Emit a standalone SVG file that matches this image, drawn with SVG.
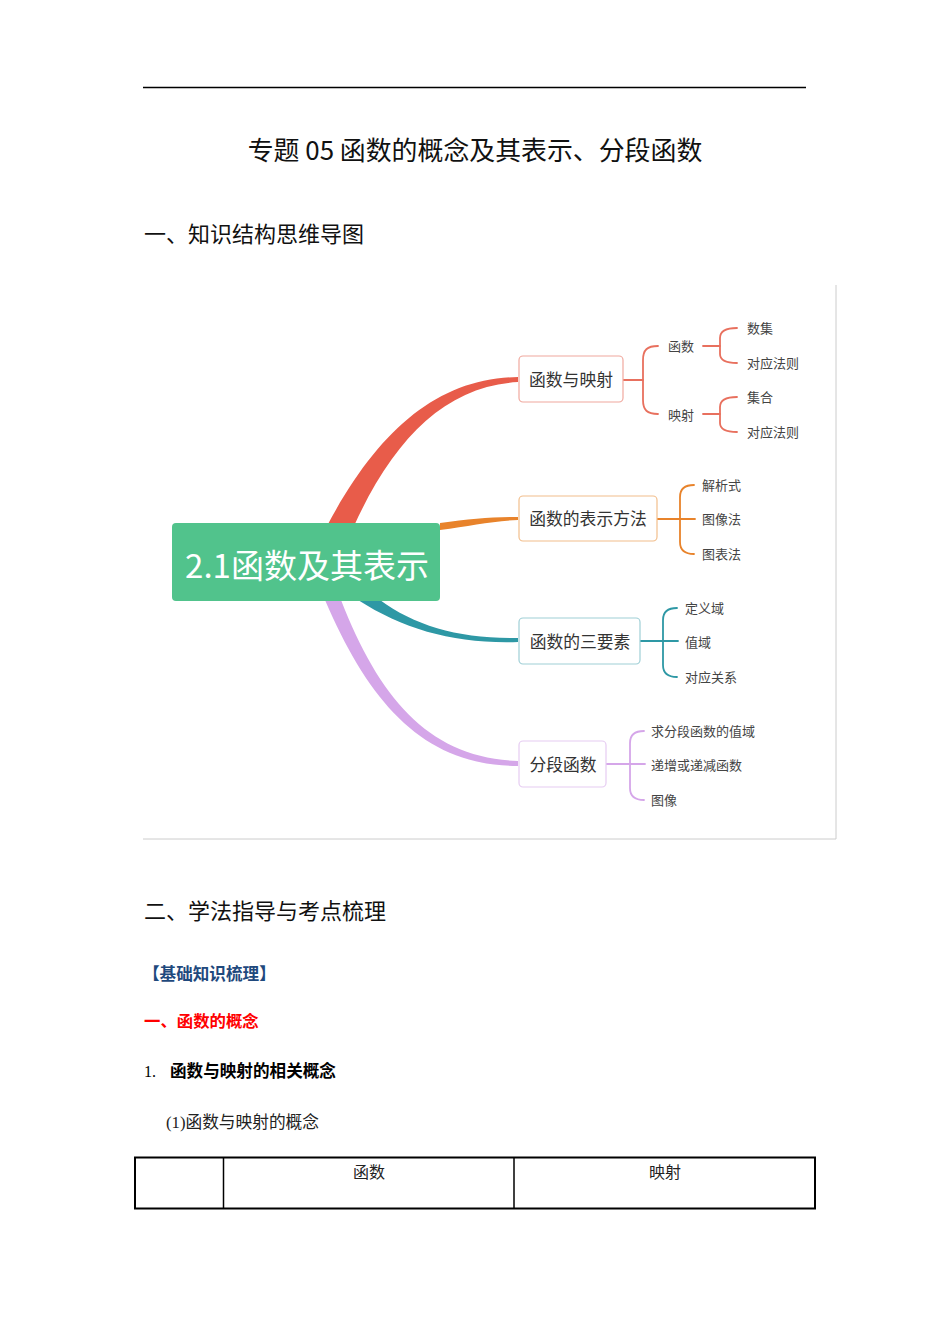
<svg xmlns="http://www.w3.org/2000/svg" width="950" height="1344" viewBox="0 0 950 1344">
<style>
.sans{font-family:"Noto Sans CJK SC","Noto Sans",sans-serif;}
.serif{font-family:"Liberation Serif","Noto Sans CJK SC",serif;}
.h1{font-size:25.9px;fill:#111;}
.h2{font-size:22px;fill:#111;}
.nodebox{fill:#fff;stroke-width:1.2;}
.nodetxt{font-size:16.8px;fill:#333;}
.leaf{font-size:13px;fill:#444;}
.br{fill:none;stroke-width:1.8;stroke-linecap:round;}
</style>
<rect width="950" height="1344" fill="#fff"/>
<line x1="143" y1="87.5" x2="806" y2="87.5" stroke="#000" stroke-width="1.5"/>
<text class="sans h1" x="475" y="160" text-anchor="middle">专题 05 函数的概念及其表示、分段函数</text>
<text class="sans h2" x="144" y="242">一、知识结构思维导图</text>

<g id="frame">
<line x1="836" y1="285" x2="836" y2="839" stroke="#ccc" stroke-width="1"/>
<line x1="143" y1="839" x2="836" y2="839" stroke="#ccc" stroke-width="1"/>
</g>

<g id="connectors">
<path d="M327 526 C378 430 438 378 518 377 L518 382 C446 386 394 438 354 526 Z" fill="#E85C4A"/>
<path d="M440 523 C470 519 492 517 518 517 L518 520 C492 521 470 526 440 530 Z" fill="#E8832B"/>
<path d="M358 600 C405 630 455 644 518 642 L518 638 C460 639 415 626 380 600 Z" fill="#2E98A5"/>
<path d="M325 600 C370 705 425 766 518 766 L518 761 C430 758 380 700 341 600 Z" fill="#D5A6E9"/>

<g stroke="#E8705E" class="br">
<path d="M623 380 H643"/>
<path d="M658 346 C647 346 643 350 643 360 V400 C643 410 647 414 658 414"/>
<path d="M703 346 H720"/>
<path d="M737 328 C725 328 720 332 720 338 V354 C720 360 725 363 737 363"/>
<path d="M703 414 H720"/>
<path d="M737 397 C725 397 720 401 720 407 V423 C720 429 725 432 737 432"/>
</g>
<g stroke="#E8832B" class="br">
<path d="M657 519 H695"/>
<path d="M694 485 C684 485 680 489 680 497 V542 C680 550 684 554 694 554"/>
</g>
<g stroke="#2E98A5" class="br">
<path d="M640 641 H678"/>
<path d="M677 608 C667 608 663 612 663 620 V665 C663 673 667 677 677 677"/>
</g>
<g stroke="#D5A6E9" class="br">
<path d="M606 764 H645"/>
<path d="M644 731 C634 731 630 735 630 743 V788 C630 796 634 800 644 800"/>
</g>
</g>

<g id="root">
<rect x="172" y="523" width="268" height="78" rx="4" fill="#51C38C"/>
<text class="sans" x="307" y="578" font-size="33" fill="#fff" text-anchor="middle">2.1函数及其表示</text>
</g>

<g id="n1">
<rect class="nodebox" x="519" y="356" width="104" height="46" rx="4" stroke="#F0A89E"/>
<text class="sans nodetxt" x="571" y="386" text-anchor="middle">函数与映射</text>
</g>
<g id="n1a"><text class="sans leaf" x="668" y="351">函数</text></g>
<g id="n1b"><text class="sans leaf" x="668" y="420">映射</text></g>
<g id="n1a1"><text class="sans leaf" x="747" y="333">数集</text></g>
<g id="n1a2"><text class="sans leaf" x="747" y="368">对应法则</text></g>
<g id="n1b1"><text class="sans leaf" x="747" y="402">集合</text></g>
<g id="n1b2"><text class="sans leaf" x="747" y="437">对应法则</text></g>

<g id="n2">
<rect class="nodebox" x="519" y="496" width="138" height="45" rx="4" stroke="#F2BE8C"/>
<text class="sans nodetxt" x="588" y="525" text-anchor="middle">函数的表示方法</text>
</g>
<g id="n2a"><text class="sans leaf" x="702" y="490">解析式</text></g>
<g id="n2b"><text class="sans leaf" x="702" y="524">图像法</text></g>
<g id="n2c"><text class="sans leaf" x="702" y="559">图表法</text></g>

<g id="n3">
<rect class="nodebox" x="519" y="618" width="121" height="46" rx="4" stroke="#9FCFD6"/>
<text class="sans nodetxt" x="580" y="648" text-anchor="middle">函数的三要素</text>
</g>
<g id="n3a"><text class="sans leaf" x="685" y="613">定义域</text></g>
<g id="n3b"><text class="sans leaf" x="685" y="647">值域</text></g>
<g id="n3c"><text class="sans leaf" x="685" y="682">对应关系</text></g>

<g id="n4">
<rect class="nodebox" x="519" y="741" width="87" height="46" rx="4" stroke="#E6CCF2"/>
<text class="sans nodetxt" x="563" y="771" text-anchor="middle">分段函数</text>
</g>
<g id="n4a"><text class="sans leaf" x="651" y="736">求分段函数的值域</text></g>
<g id="n4b"><text class="sans leaf" x="651" y="770">递增或递减函数</text></g>
<g id="n4c"><text class="sans leaf" x="651" y="805">图像</text></g>

<text class="sans h2" x="144" y="919">二、学法指导与考点梳理</text>
<text class="sans" x="143" y="980" font-size="16.6" font-weight="bold" fill="#1F497D">【基础知识梳理】</text>
<text class="sans" x="144" y="1027" font-size="16.4" font-weight="bold" fill="#FF0000">一、函数的概念</text>
<text class="serif" x="144" y="1077" font-size="16" fill="#000">1.</text>
<text class="sans" x="170" y="1077" font-size="16.6" font-weight="bold" fill="#000">函数与映射的相关概念</text>
<text class="serif" x="166" y="1128" font-size="16.7" fill="#222">(1)函数与映射的概念</text>

<g id="table">
<rect x="135" y="1157.5" width="680" height="51" fill="none" stroke="#000" stroke-width="2"/>
<line x1="223.5" y1="1157" x2="223.5" y2="1209" stroke="#000" stroke-width="1.5"/>
<line x1="514" y1="1157" x2="514" y2="1209" stroke="#000" stroke-width="1.5"/>
<text class="serif" x="369" y="1178" font-size="16" fill="#222" text-anchor="middle">函数</text>
<text class="serif" x="665" y="1178" font-size="16" fill="#222" text-anchor="middle">映射</text>
</g>
</svg>
